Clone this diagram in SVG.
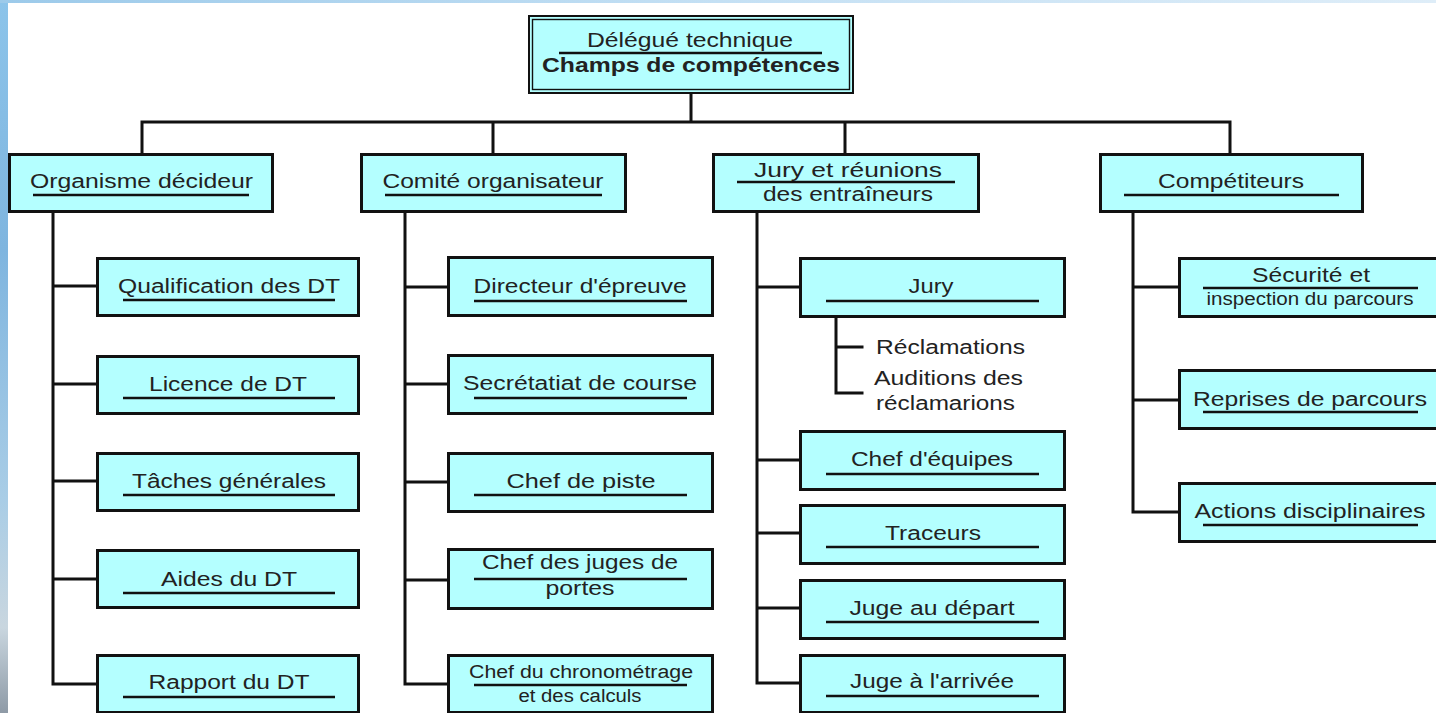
<svg xmlns="http://www.w3.org/2000/svg" width="1436" height="713" viewBox="0 0 1436 713">
  <defs>
    <linearGradient id="skyLeft" x1="0" y1="0" x2="0" y2="1">
      <stop offset="0" stop-color="#8cc4ea"/>
      <stop offset="0.35" stop-color="#7fb5df"/>
      <stop offset="0.7" stop-color="#a9cde6"/>
      <stop offset="0.88" stop-color="#c9d6df"/>
      <stop offset="1" stop-color="#8e9aa6"/>
    </linearGradient>
    <linearGradient id="skyTop" x1="0" y1="0" x2="1" y2="0">
      <stop offset="0" stop-color="#9ccaea"/>
      <stop offset="0.5" stop-color="#c4e0f4"/>
      <stop offset="1" stop-color="#deedf8"/>
    </linearGradient>
    <style>
      .box { fill: #b4ffff; stroke: #111; stroke-width: 3; }
      .ul { stroke: #111; stroke-width: 2.6; }
      .wire { fill: none; stroke: #111; stroke-width: 3; stroke-linejoin: miter; stroke-linecap: square; }
      .t { font-family: "Liberation Sans", Arial, Helvetica, sans-serif; font-size: 20px; fill: #222; text-anchor: middle; }
      .s { font-size: 18px; }
      .l { text-anchor: start; }
      .b { font-weight: bold; }
    </style>
  </defs>

  <!-- page background with the photo border on the left and top -->
  <rect x="0" y="0" width="1436" height="713" fill="#ffffff"/>
  <rect x="0" y="0" width="8" height="713" fill="url(#skyLeft)"/>
  <rect x="0" y="0" width="1436" height="3" fill="url(#skyTop)"/>

  <!-- connectors -->
  <g id="connectors">
    <path class="wire" d="M691 94 V122 M142 153 V122 H1230 V153 M493 122 V153 M845 122 V153"/>
    <path class="wire" d="M53 212 V684 H96 M53 286 H96 M53 384 H96 M53 481 H96 M53 579 H96"/>
    <path class="wire" d="M405 212 V684 H447 M405 287 H447 M405 384 H447 M405 482 H447 M405 580 H447"/>
    <path class="wire" d="M757 212 V683 H799 M757 287 H799 M757 460 H799 M757 533 H799 M757 608 H799"/>
    <path class="wire" d="M1133 212 V512 H1178 M1133 287 H1178 M1133 400 H1178"/>
    <path class="wire" d="M836 318 V393 H862 M836 347 H862"/>
  </g>

  <!-- root -->
  <g id="delegue">
    <rect x="529" y="16" width="324" height="77" fill="#b4ffff" stroke="#111" stroke-width="2"/>
    <rect x="532.5" y="19.5" width="317" height="70" fill="none" stroke="#111" stroke-width="1.4"/>
    <text class="t" x="690" y="47" textLength="206" lengthAdjust="spacingAndGlyphs">Délégué technique</text>
    <line class="ul" x1="559" y1="53" x2="822" y2="53"/>
    <text class="t b" x="691" y="72" textLength="298" lengthAdjust="spacingAndGlyphs">Champs de compétences</text>
  </g>

  <!-- level 1 -->
  <g id="organisme">
    <rect class="box" x="9.5" y="154.5" width="263" height="57"/>
    <text class="t" x="141.5" y="188" textLength="223" lengthAdjust="spacingAndGlyphs">Organisme décideur</text>
    <line class="ul" x1="33" y1="195" x2="249" y2="195"/>
  </g>
  <g id="comite">
    <rect class="box" x="361.5" y="154.5" width="264" height="57"/>
    <text class="t" x="493" y="188" textLength="221" lengthAdjust="spacingAndGlyphs">Comité organisateur</text>
    <line class="ul" x1="385" y1="195" x2="602" y2="195"/>
  </g>
  <g id="jury-reunions">
    <rect class="box" x="713.5" y="154.5" width="265" height="57"/>
    <text class="t" x="848" y="177" textLength="188" lengthAdjust="spacingAndGlyphs">Jury et réunions</text>
    <line class="ul" x1="737" y1="182" x2="955" y2="182"/>
    <text class="t" x="848" y="201" textLength="170" lengthAdjust="spacingAndGlyphs">des entraîneurs</text>
  </g>
  <g id="competiteurs">
    <rect class="box" x="1100.5" y="154.5" width="262" height="57"/>
    <text class="t" x="1231" y="188" textLength="146" lengthAdjust="spacingAndGlyphs">Compétiteurs</text>
    <line class="ul" x1="1124" y1="195" x2="1339" y2="195"/>
  </g>

  <!-- Organisme décideur -->
  <g id="qualification">
    <rect class="box" x="97.5" y="258.5" width="261" height="57"/>
    <text class="t" x="229" y="293" textLength="222" lengthAdjust="spacingAndGlyphs">Qualification des DT</text>
    <line class="ul" x1="123" y1="300" x2="335" y2="300"/>
  </g>
  <g id="licence">
    <rect class="box" x="97.5" y="356.5" width="261" height="57"/>
    <text class="t" x="228" y="391" textLength="158" lengthAdjust="spacingAndGlyphs">Licence de DT</text>
    <line class="ul" x1="123" y1="398" x2="335" y2="398"/>
  </g>
  <g id="taches">
    <rect class="box" x="97.5" y="453.5" width="261" height="57"/>
    <text class="t" x="229" y="488" textLength="194" lengthAdjust="spacingAndGlyphs">Tâches générales</text>
    <line class="ul" x1="123" y1="495" x2="335" y2="495"/>
  </g>
  <g id="aides">
    <rect class="box" x="97.5" y="550.5" width="261" height="57"/>
    <text class="t" x="229" y="586" textLength="136" lengthAdjust="spacingAndGlyphs">Aides du DT</text>
    <line class="ul" x1="123" y1="593" x2="335" y2="593"/>
  </g>
  <g id="rapport">
    <rect class="box" x="97.5" y="655.5" width="261" height="57"/>
    <text class="t" x="229" y="689" textLength="161" lengthAdjust="spacingAndGlyphs">Rapport du DT</text>
    <line class="ul" x1="123" y1="697" x2="335" y2="697"/>
  </g>

  <!-- Comité organisateur -->
  <g id="directeur">
    <rect class="box" x="448.5" y="257.5" width="264" height="58"/>
    <text class="t" x="580" y="293" textLength="213" lengthAdjust="spacingAndGlyphs">Directeur d'épreuve</text>
    <line class="ul" x1="474" y1="301" x2="687" y2="301"/>
  </g>
  <g id="secretariat">
    <rect class="box" x="448.5" y="355.5" width="264" height="58"/>
    <text class="t" x="580" y="390" textLength="234" lengthAdjust="spacingAndGlyphs">Secrétatiat de course</text>
    <line class="ul" x1="474" y1="398" x2="687" y2="398"/>
  </g>
  <g id="chef-piste">
    <rect class="box" x="448.5" y="453.5" width="264" height="58"/>
    <text class="t" x="581" y="488" textLength="149" lengthAdjust="spacingAndGlyphs">Chef de piste</text>
    <line class="ul" x1="474" y1="495" x2="687" y2="495"/>
  </g>
  <g id="chef-juges">
    <rect class="box" x="448.5" y="549.5" width="264" height="59"/>
    <text class="t" x="580" y="569" textLength="196" lengthAdjust="spacingAndGlyphs">Chef des juges de</text>
    <line class="ul" x1="474" y1="579" x2="687" y2="579"/>
    <text class="t" x="580" y="595" textLength="69" lengthAdjust="spacingAndGlyphs">portes</text>
  </g>
  <g id="chronometrage">
    <rect class="box" x="448.5" y="655.5" width="264" height="57"/>
    <text class="t s" x="581" y="678" textLength="224" lengthAdjust="spacingAndGlyphs">Chef du chronométrage</text>
    <line class="ul" x1="474" y1="685" x2="687" y2="685"/>
    <text class="t s" x="580" y="702" textLength="123" lengthAdjust="spacingAndGlyphs">et des calculs</text>
  </g>

  <!-- Jury et réunions des entraîneurs -->
  <g id="jury">
    <rect class="box" x="800.5" y="258.5" width="264" height="58"/>
    <text class="t" x="931" y="293" textLength="45" lengthAdjust="spacingAndGlyphs">Jury</text>
    <line class="ul" x1="826" y1="301" x2="1039" y2="301"/>
  </g>
  <g id="reclamations">
    <text class="t l" x="876" y="354" textLength="149" lengthAdjust="spacingAndGlyphs">Réclamations</text>
    <text class="t l" x="874" y="385" textLength="149" lengthAdjust="spacingAndGlyphs">Auditions des</text>
    <text class="t l" x="876" y="410" textLength="139" lengthAdjust="spacingAndGlyphs">réclamarions</text>
  </g>
  <g id="chef-equipes">
    <rect class="box" x="800.5" y="431.5" width="264" height="58"/>
    <text class="t" x="932" y="466" textLength="162" lengthAdjust="spacingAndGlyphs">Chef d'équipes</text>
    <line class="ul" x1="826" y1="474" x2="1039" y2="474"/>
  </g>
  <g id="traceurs">
    <rect class="box" x="800.5" y="505.5" width="264" height="58"/>
    <text class="t" x="933" y="540" textLength="96" lengthAdjust="spacingAndGlyphs">Traceurs</text>
    <line class="ul" x1="826" y1="547" x2="1039" y2="547"/>
  </g>
  <g id="juge-depart">
    <rect class="box" x="800.5" y="580.5" width="264" height="58"/>
    <text class="t" x="932" y="615" textLength="165" lengthAdjust="spacingAndGlyphs">Juge au départ</text>
    <line class="ul" x1="826" y1="622" x2="1039" y2="622"/>
  </g>
  <g id="juge-arrivee">
    <rect class="box" x="800.5" y="655.5" width="264" height="57"/>
    <text class="t" x="932" y="688" textLength="164" lengthAdjust="spacingAndGlyphs">Juge à l'arrivée</text>
    <line class="ul" x1="826" y1="696" x2="1039" y2="696"/>
  </g>

  <!-- Compétiteurs -->
  <g id="securite">
    <rect class="box" x="1179.5" y="258.5" width="266" height="58"/>
    <text class="t" x="1311" y="282" textLength="118" lengthAdjust="spacingAndGlyphs">Sécurité et</text>
    <line class="ul" x1="1203" y1="288" x2="1418" y2="288"/>
    <text class="t s" x="1310" y="305" textLength="207" lengthAdjust="spacingAndGlyphs">inspection du parcours</text>
  </g>
  <g id="reprises">
    <rect class="box" x="1179.5" y="370.5" width="266" height="58"/>
    <text class="t" x="1310" y="406" textLength="234" lengthAdjust="spacingAndGlyphs">Reprises de parcours</text>
    <line class="ul" x1="1203" y1="412" x2="1418" y2="412"/>
  </g>
  <g id="actions">
    <rect class="box" x="1179.5" y="483.5" width="266" height="58"/>
    <text class="t" x="1310" y="518" textLength="231" lengthAdjust="spacingAndGlyphs">Actions disciplinaires</text>
    <line class="ul" x1="1203" y1="525" x2="1418" y2="525"/>
  </g>
</svg>
